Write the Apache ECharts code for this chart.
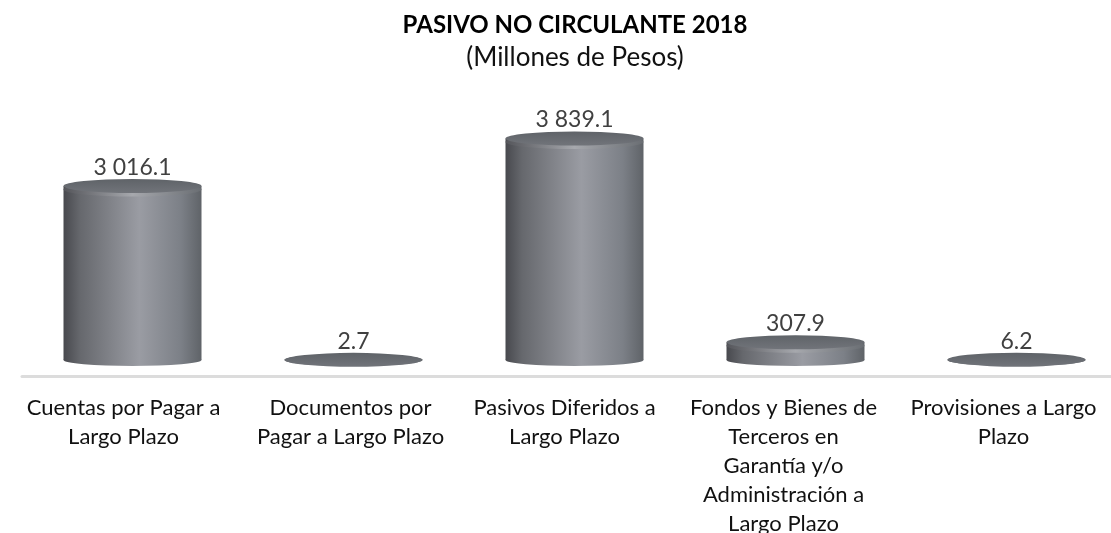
<!DOCTYPE html>
<html>
<head>
<meta charset="utf-8">
<style>html,body{margin:0;padding:0;background:#fff}</style>
<script src="https://cdn.jsdelivr.net/npm/echarts@6/dist/echarts.min.js"></script>
</head>
<body>
<div id="main" style="width:1111px;height:533px"></div>
<script>
var categories = [
  'Cuentas por Pagar a\nLargo Plazo',
  'Documentos por\nPagar a Largo Plazo',
  'Pasivos Diferidos a\nLargo Plazo',
  'Fondos y Bienes de\nTerceros en\nGarantía y/o\nAdministración a\nLargo Plazo',
  'Provisiones a Largo\nPlazo'
];
var values = [3016.1, 2.7, 3839.1, 307.9, 6.2];

var fontName = 'Lato';
var barW = 138;
// the labels sit a little left of their bars in the original
var labelPad = [18, 6, 20, 24, 26];

function fmt(v) {
  return v.toFixed(1).replace(/\B(?=(\d{3})+\.)/g, ' ');
}

var body = new echarts.graphic.LinearGradient(0, 0, 1, 0, [
  { offset: 0, color: '#48494e' },
  { offset: 0.12, color: '#66686d' },
  { offset: 0.55, color: '#9a9ca3' },
  { offset: 0.85, color: '#7c8087' },
  { offset: 1, color: '#5f6368' }
]);
var rim = new echarts.graphic.LinearGradient(0, 0, 1, 0, [
  { offset: 0, color: '#55565b' },
  { offset: 0.5, color: '#a6a8ad' },
  { offset: 1, color: '#6a6e73' }
]);
var top_ = new echarts.graphic.LinearGradient(0, 0, 0, 1, [
  { offset: 0, color: '#5f6368' },
  { offset: 1, color: '#71747a' }
]);

var myChart = echarts.init(document.getElementById('main'), null, { renderer: 'canvas' });

var option = {
  animation: false,
  title: {
    text: 'PASIVO NO CIRCULANTE 2018',
    subtext: '(Millones de Pesos)',
    left: 570,
    top: 8,
    textAlign: 'center',
    itemGap: 8,
    textStyle: { fontFamily: fontName, fontSize: 24, fontWeight: 'bold', color: '#000' },
    subtextStyle: { fontFamily: fontName, fontSize: 26, color: '#111' }
  },
  grid: { left: 22, width: 1105, top: 100, height: 276, outerBoundsMode: 'none' },
  xAxis: {
    type: 'category',
    data: categories.map(function (c, i) {
      return { value: c, textStyle: { padding: [0, labelPad[i], 0, 0] } };
    }),
    axisTick: { show: false },
    axisLine: { onZero: false, lineStyle: { color: '#dcdcdc', width: 3 } },
    axisLabel: {
      interval: 0,
      margin: 17,
      lineHeight: 29,
      fontFamily: fontName,
      fontSize: 22,
      color: '#111'
    }
  },
  yAxis: { type: 'value', min: -277, max: 4506, show: false, splitLine: { show: false } },
  series: [
    {
      type: 'bar',
      data: values,
      barWidth: barW,
      itemStyle: { color: body },
      z: 2
    },
    {
      type: 'pictorialBar',
      data: values,
      symbol: 'circle',
      symbolSize: [barW, 12],
      symbolPosition: 'start',
      symbolOffset: [0, '50%'],
      itemStyle: { color: body },
      z: 1
    },
    {
      // light band just under the lid, only where the bar is tall enough to show it
      type: 'pictorialBar',
      data: values.map(function (v) { return v > 100 ? v : null; }),
      symbol: 'circle',
      symbolSize: [barW, 14],
      symbolPosition: 'end',
      symbolOffset: [0, '-25%'],
      itemStyle: { color: rim },
      z: 3
    },
    {
      type: 'pictorialBar',
      data: values,
      symbol: 'circle',
      symbolSize: [barW, 14],
      symbolPosition: 'end',
      symbolOffset: [0, '-50%'],
      itemStyle: { color: top_ },
      label: {
        show: true,
        position: 'top',
        distance: 0,
        formatter: function (p) { return fmt(p.value); },
        fontFamily: fontName,
        fontSize: 23,
        color: '#404040'
      },
      z: 4
    }
  ]
};

myChart.setOption(option);
window.addEventListener('resize', myChart.resize);
</script>
</body>
</html>
